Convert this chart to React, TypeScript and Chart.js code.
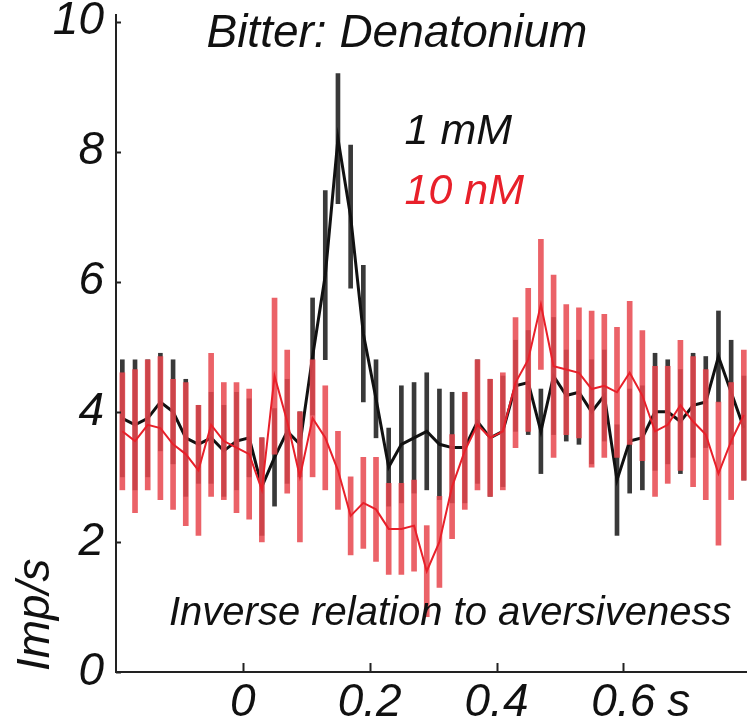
import { useEffect, useRef } from 'react';
import { Chart, registerables } from 'chart.js';

Chart.register(...registerables);

// time bins (s), 20 ms bins
const timeBins = [
  -0.19, -0.17, -0.15, -0.13, -0.11, -0.09, -0.07, -0.05, -0.03, -0.01,
  0.01, 0.03, 0.05, 0.07, 0.09, 0.11, 0.13, 0.15, 0.17, 0.19,
  0.21, 0.23, 0.25, 0.27, 0.29, 0.31, 0.33, 0.35, 0.37, 0.39,
  0.41, 0.43, 0.45, 0.47, 0.49, 0.51, 0.53, 0.55, 0.57, 0.59,
  0.61, 0.63, 0.65, 0.67, 0.69, 0.71, 0.73, 0.75, 0.77, 0.79,
];

// 1 mM (black)
const rate1mM = [
  3.9, 3.8, 3.9, 4.15, 4.0, 3.6, 3.5, 3.6, 3.4, 3.55,
  3.6, 2.85, 3.3, 3.7, 3.5, 4.85, 6.1, 8.2, 7.0, 5.2,
  4.2, 3.15, 3.5, 3.6, 3.7, 3.5, 3.45, 3.45, 3.85, 3.6,
  3.7, 4.4, 4.45, 3.7, 4.55, 4.25, 4.3, 4.0, 4.25, 2.95,
  3.55, 3.6, 4.0, 4.0, 3.85, 4.1, 4.15, 4.85, 4.3, 3.75,
];
const err1mM = [
  0.9, 1.0, 0.9, 0.75, 0.8, 0.9, 0.6, 0.7, 0.7, 0.75,
  0.6, 0.75, 0.75, 0.8, 0.5, 0.9, 1.3, 1.0, 1.1, 1.05,
  0.6, 0.6, 0.9, 0.85, 0.9, 0.85, 0.85, 0.85, 0.95, 0.9,
  0.85, 0.7, 0.8, 0.65, 0.9, 0.7, 0.8, 0.8, 0.7, 0.85,
  0.8, 0.8, 0.9, 0.8, 0.8, 0.8, 0.7, 0.7, 0.8, 0.8,
];

// 10 nM (red)
const rate10nM = [
  3.7, 3.55, 3.8, 3.75, 3.5, 3.35, 3.1, 3.8, 3.55, 3.45,
  3.35, 2.8, 4.55, 3.85, 3.0, 3.9, 3.6, 3.1, 2.4, 2.6,
  2.5, 2.2, 2.2, 2.25, 1.55, 2.0, 2.85, 3.4, 3.8, 3.6,
  3.7, 4.45, 4.8, 5.65, 4.7, 4.65, 4.6, 4.35, 4.4, 4.3,
  4.6, 4.25, 3.7, 3.8, 4.1, 3.85, 3.65, 3.05, 3.55, 3.95,
];
const err10nM = [
  0.9, 1.1, 1.0, 1.1, 1.0, 1.1, 1.0, 1.1, 0.9, 1.0,
  1.0, 0.8, 1.2, 1.1, 1.0, 0.9, 0.8, 0.6, 0.6, 0.7,
  0.8, 0.7, 0.7, 0.7, 0.7, 0.7, 0.8, 0.9, 1.0, 0.9,
  0.9, 1.0, 1.1, 1.0, 1.4, 1.0, 1.0, 1.2, 1.1, 1.0,
  1.1, 1.0, 1.0, 0.9, 1.0, 1.0, 1.0, 1.1, 0.9, 1.0,
];

const xTicks = [0, 0.2, 0.4, 0.6];
const yTicks = [0, 2, 4, 6, 8, 10];

const titleText = 'Bitter: Denatonium';
const seriesLabels = ['1 mM', '10 nM'];
const noteText = 'Inverse relation to aversiveness';
const yTitle = 'Imp/s';
const xUnit = 's';

const FONT = '"Liberation Sans", Arial, Helvetica, sans-serif';
const INK = '#111111';
const RED = '#e8202a';

const annotations = {
  id: 'annotations',
  afterDraw(chart: any) {
    const { ctx, chartArea, scales } = chart;
    const x = scales.x;
    const y = scales.y;
    ctx.save();
    // inward tick marks
    ctx.strokeStyle = '#222';
    ctx.lineWidth = 2;
    xTicks.forEach((v) => {
      const px = Math.round(x.getPixelForValue(v)) + 0.5;
      ctx.beginPath();
      ctx.moveTo(px, chartArea.bottom);
      ctx.lineTo(px, chartArea.bottom - 9);
      ctx.stroke();
    });
    yTicks.forEach((v) => {
      const py = Math.round(y.getPixelForValue(v)) + 0.5;
      ctx.beginPath();
      ctx.moveTo(chartArea.left, py);
      ctx.lineTo(chartArea.left + 5, py);
      ctx.stroke();
    });

    ctx.textBaseline = 'middle';
    // title
    ctx.fillStyle = INK;
    ctx.font = `italic 46px ${FONT}`;
    ctx.textAlign = 'center';
    ctx.fillText(titleText, x.getPixelForValue(0.243), y.getPixelForValue(9.8));
    // legend labels
    ctx.textAlign = 'left';
    ctx.font = `italic 43px ${FONT}`;
    ctx.fillStyle = INK;
    ctx.fillText(seriesLabels[0], x.getPixelForValue(0.255), y.getPixelForValue(8.3));
    ctx.fillStyle = RED;
    ctx.fillText(seriesLabels[1], x.getPixelForValue(0.255), y.getPixelForValue(7.38));
    // note
    ctx.fillStyle = INK;
    ctx.textAlign = 'center';
    ctx.font = `italic 40px ${FONT}`;
    ctx.fillText(noteText, x.getPixelForValue(0.327), y.getPixelForValue(0.9));
    // unit on x axis
    ctx.font = `italic 46px ${FONT}`;
    ctx.textAlign = 'left';
    ctx.fillText(xUnit, x.getPixelForValue(0.6) + 44, chartArea.bottom + 31);
    // y title
    ctx.translate(36, y.getPixelForValue(0.88));
    ctx.rotate(-Math.PI / 2);
    ctx.textAlign = 'center';
    ctx.fillText(yTitle, 0, 0);
    ctx.restore();
  },
};

export default function App() {
  const canvasRef = useRef<HTMLCanvasElement | null>(null);

  useEffect(() => {
    const canvas = canvasRef.current;
    if (!canvas) return;
    const bars = (means: number[], errs: number[]) =>
      timeBins.map((t, i) => ({ x: t, y: [means[i] - errs[i], means[i] + errs[i]] }));
    const line = (means: number[]) => timeBins.map((t, i) => ({ x: t, y: means[i] }));

    const chart = new Chart(canvas, {
      type: 'bar',
      data: {
        datasets: [
          {
            type: 'bar',
            label: seriesLabels[0] + ' SEM',
            data: bars(rate1mM, err1mM) as any,
            backgroundColor: 'rgba(40,40,40,0.92)',
            borderWidth: 0,
            barThickness: 4,
            grouped: false,
            order: 4,
          } as any,
          {
            type: 'line',
            label: seriesLabels[0],
            data: line(rate1mM) as any,
            borderColor: INK,
            borderWidth: 3,
            pointRadius: 0,
            tension: 0,
            order: 3,
          },
          {
            type: 'bar',
            label: seriesLabels[1] + ' SEM',
            data: bars(rate10nM, err10nM) as any,
            backgroundColor: 'rgba(232,70,78,0.85)',
            borderWidth: 0,
            barThickness: 5,
            grouped: false,
            order: 2,
          } as any,
          {
            type: 'line',
            label: seriesLabels[1],
            data: line(rate10nM) as any,
            borderColor: RED,
            borderWidth: 2,
            pointRadius: 0,
            tension: 0,
            order: 1,
          },
        ],
      },
      options: {
        animation: false,
        responsive: false,
        devicePixelRatio: 1,
        layout: { autoPadding: false, padding: { top: 15, right: 0, bottom: 0, left: 0 } } as any,
        plugins: { legend: { display: false }, tooltip: { enabled: false } },
        scales: {
          x: {
            type: 'linear',
            min: -0.2,
            max: 0.795,
            offset: false,
            grid: { display: true, drawOnChartArea: false, drawTicks: false },
            border: { display: true, color: '#222', width: 2 },
            afterBuildTicks: (s: any) => {
              s.ticks = xTicks.map((v) => ({ value: v }));
            },
            afterFit: (s: any) => {
              s.height = 56;
              s.paddingLeft = 0;
              s.paddingRight = 0;
              s.paddingTop = 0;
              s.paddingBottom = 0;
            },
            ticks: {
              color: INK,
              padding: 4,
              maxRotation: 0,
              autoSkip: false,
              font: { family: FONT, size: 46, style: 'italic' },
              callback: (v: any) => String(v),
            },
          },
          y: {
            type: 'linear',
            min: 0,
            max: 10.1,
            grid: { display: true, drawOnChartArea: false, drawTicks: false },
            border: { display: true, color: '#222', width: 2 },
            afterBuildTicks: (s: any) => {
              s.ticks = yTicks.map((v) => ({ value: v }));
            },
            afterFit: (s: any) => {
              s.width = 116;
              s.paddingLeft = 0;
              s.paddingRight = 0;
              s.paddingTop = 0;
              s.paddingBottom = 0;
            },
            ticks: {
              color: INK,
              padding: 12,
              font: { family: FONT, size: 46, style: 'italic' },
              callback: (v: any) => String(v),
            },
          },
        },
      },
      plugins: [annotations],
    });
    return () => chart.destroy();
  }, []);

  return (
    <div style={{ position: 'absolute', left: 0, top: 0, width: 747, height: 728, background: '#fff' }}>
      <canvas ref={canvasRef} width={747} height={728} style={{ display: 'block' }} />
    </div>
  );
}
